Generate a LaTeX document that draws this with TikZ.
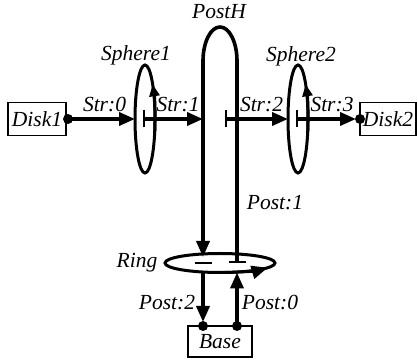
\documentclass[tikz,border=0pt]{standalone}
\usepackage{fontspec}
\setmainfont{Liberation Serif}
\usetikzlibrary{arrows.meta,shapes.geometric}
\tikzset{
  head/.tip={Triangle[length=16pt,width=13pt]},
  smallhead/.tip={Triangle[length=12pt,width=10pt]},
  tick/.tip={Bar[width=17pt,line width=2.2pt]},
  lbl/.style={font=\fontsize{21.5}{25}\selectfont\itshape, inner sep=0pt, anchor=base},
  box/.style={draw, line width=1.8pt, inner sep=0pt, outer sep=0pt, font=\fontsize{21.5}{25}\selectfont\itshape},
  orb/.style={ellipse, draw, line width=3pt, inner sep=0pt, outer sep=0pt},
  conn/.style={line width=3.6pt},
  spin/.style={line width=3pt},
  dotfill/.style={fill=black}
}
\begin{document}
\begin{tikzpicture}[x=1pt,y=1pt]
\useasboundingbox (0,0) rectangle (418,361);
% nodes
\node[box, minimum width=58pt, minimum height=33pt] (disk1) at (37,242) {Disk1};
\node[box, minimum width=56pt, minimum height=33pt] (disk2) at (388,242) {Disk2};
\node[box, minimum width=64pt, minimum height=31pt] (base) at (220,19.5) {Base};
\node[orb, minimum width=20pt, minimum height=108pt] (sphere1) at (145,242) {};
\node[orb, minimum width=20pt, minimum height=108pt] (sphere2) at (298,242) {};
\node[orb, minimum width=110pt, minimum height=19pt] (ring) at (220,98) {};
\coordinate (phL) at (203,242);
\coordinate (phR) at (237,242);
\coordinate (s2tick) at (225,242);
\coordinate (ringL) at (203,98);
\coordinate (ringR) at (237,98);
\coordinate (ringLtop) at (203,104);
% spin arrows on the ellipses
\draw[spin, -{smallhead}] ([shift={(-15:10 and 54)}]sphere1.center) arc[start angle=-15, end angle=40, x radius=10, y radius=54];
\draw[spin, -{smallhead}] ([shift={(-15:10 and 54)}]sphere2.center) arc[start angle=-15, end angle=40, x radius=10, y radius=54];
\draw[spin, -{head}] ([shift={(-85:55 and 9.5)}]ring.center) arc[start angle=-85, end angle=-30, x radius=55, y radius=9.5];
% strings
\draw[conn, -{head}] ([xshift=4pt]disk1.east) -- (sphere1.west)
  node[lbl, pos=0.5, xshift=2pt, yshift=7pt] {Str:0};
\draw[conn, {tick}-{head}] ([xshift=-2pt]sphere1.center) -- (phL)
  node[lbl, pos=0.5, xshift=5pt, yshift=7pt] {Str:1};
\draw[conn, {tick}-{head}] (s2tick) -- (sphere2.west)
  node[lbl, pos=0.5, xshift=5pt, yshift=7pt] {Str:2};
\draw[conn, {tick}-{head}, shorten >=4pt] ([xshift=-2pt]sphere2.center) -- (disk2.west)
  node[lbl, pos=0.5, xshift=4pt, yshift=7pt] {Str:3};
% the post
\draw[conn, {tick}-{head}] (ringR) -- (237,300) arc[start angle=0, end angle=180, x radius=17, y radius=34] -- (ringLtop);
\draw[line width=2.2pt] ([xshift=-8.5pt]ringL) -- ([xshift=8.5pt]ringL);
\draw[conn, -{head}, shorten >=4pt] (ring.south -| phL) -- (base.north -| phL);
\draw[conn, -{head}] (base.north -| phR) -- (ring.south -| phR);
% dots
\fill[dotfill] ([xshift=2pt]disk1.east) circle (5);
\fill[dotfill] (disk2.west) circle (5);
\fill[dotfill] (base.north -| phL) circle (5);
\fill[dotfill] (base.north -| phR) circle (5);
% labels
\node[lbl] (lpost) at (219,342) {PostH};
\node[lbl] (lsph1) at (136,300) {Sphere1};
\node[lbl] (lsph2) at (301,299) {Sphere2};
\node[lbl] (lpost1) at (275,151) {Post:1};
\node[lbl] (lring) at (137,93) {Ring};
\node[lbl] (lpost2) at (167,51) {Post:2};
\node[lbl] (lpost0) at (270,51) {Post:0};
\end{tikzpicture}
\end{document}
